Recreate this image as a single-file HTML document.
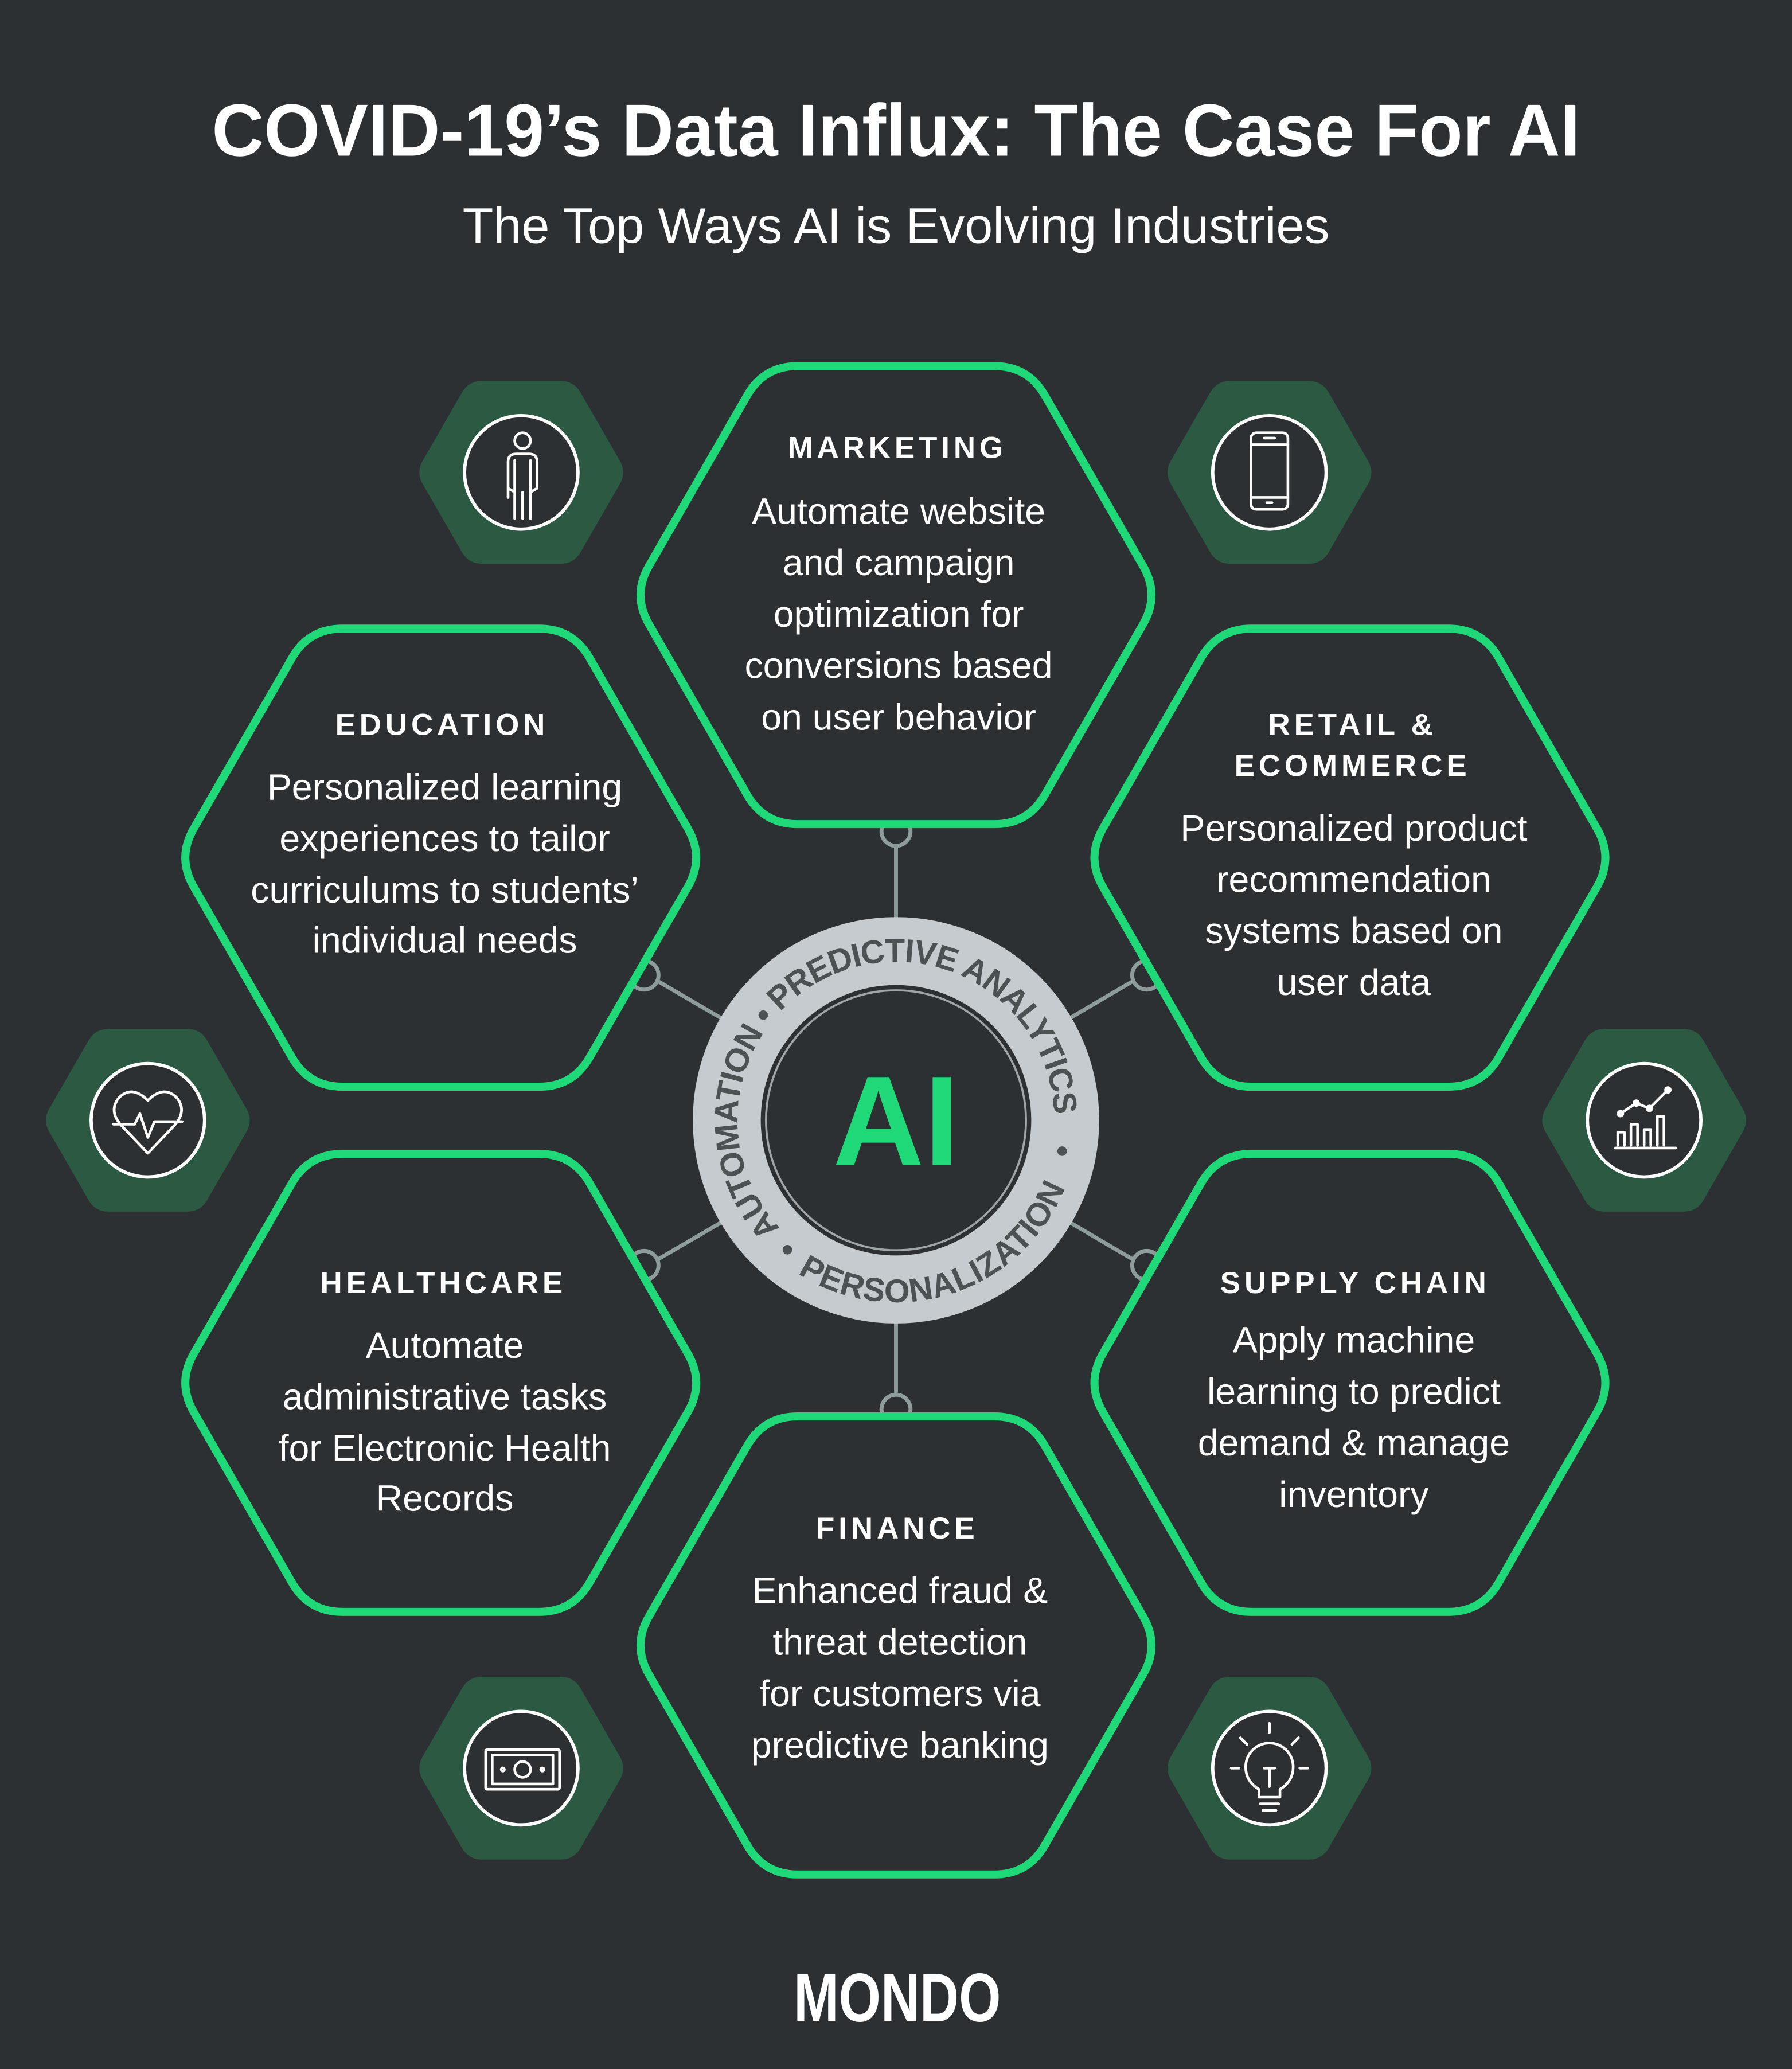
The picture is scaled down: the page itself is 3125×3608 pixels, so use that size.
<!DOCTYPE html>
<html><head><meta charset="utf-8"><style>html,body{margin:0;padding:0;background:#2c3032}svg{display:block}</style></head>
<body>
<svg width="3125" height="3608" viewBox="0 0 1358 1568" xmlns="http://www.w3.org/2000/svg" font-family="'Liberation Sans', sans-serif">
<defs>
<path id="hx" d="M184.5,-21.7 Q197,0 184.5,21.7 L111,149.3 Q98.5,171 73.5,171 L-73.5,171 Q-98.5,171 -111,149.3 L-184.5,21.7 Q-197,0 -184.5,-21.7 L-111,-149.3 Q-98.5,-171 -73.5,-171 L73.5,-171 Q98.5,-171 111,-149.3 Z"/>
<path id="cw" d="M591.3,930.8 A120,120 0 1 1 798.9,844.8"/>
<path id="ccw" d="M604.5,965.1 A138,138 0 0 0 807.3,899.8"/>
</defs>
<rect width="1358" height="1568" fill="#2c3032"/>
<text x="679" y="118" text-anchor="middle" font-size="56" font-weight="bold" fill="#fff" textLength="1037" lengthAdjust="spacingAndGlyphs">COVID-19’s Data Influx: The Case For AI</text>
<text x="679" y="184" text-anchor="middle" font-size="38" fill="#fff" textLength="657" lengthAdjust="spacingAndGlyphs">The Top Ways AI is Evolving Industries</text>

<g stroke="#8f9c9c" stroke-width="3" fill="#2c3032">
<line x1="679" y1="849" x2="679" y2="628"/><line x1="679" y1="849" x2="679" y2="1070"/>
<line x1="679" y1="849" x2="489" y2="738"/><line x1="679" y1="849" x2="868" y2="738"/>
<line x1="679" y1="849" x2="489" y2="960"/><line x1="679" y1="849" x2="868" y2="960"/>
<circle cx="679" cy="630" r="11"/><circle cx="679" cy="1068" r="11"/>
<circle cx="488" cy="739" r="11"/><circle cx="869" cy="739" r="11"/>
<circle cx="488" cy="959" r="11"/><circle cx="869" cy="959" r="11"/>
</g>

<g fill="#2c5942">
<use href="#hx" transform="translate(395,358) scale(0.405)"/>
<use href="#hx" transform="translate(962,358) scale(0.405)"/>
<use href="#hx" transform="translate(112,849) scale(0.405)"/>
<use href="#hx" transform="translate(1246,849) scale(0.405)"/>
<use href="#hx" transform="translate(395,1340) scale(0.405)"/>
<use href="#hx" transform="translate(962,1340) scale(0.405)"/>
</g>
<g fill="#2c3032" stroke="#fff" stroke-width="2.5">
<circle cx="395" cy="358" r="43"/><circle cx="962" cy="358" r="43"/>
<circle cx="112" cy="849" r="43"/><circle cx="1246" cy="849" r="43"/>
<circle cx="395" cy="1340" r="43"/><circle cx="962" cy="1340" r="43"/>
</g>
<g fill="none" stroke="#fff" stroke-width="2" stroke-linecap="round" stroke-linejoin="round">
<circle cx="396" cy="334" r="6"/>
<path d="M385,377 V350 Q385,344 391,344 H401 Q407,344 407,350 V370 L402,373"/>
<path d="M385,370 L390,373 M390,349 V393 M402,349 V393 M396,373 V393"/>
<rect x="948" y="328" width="28" height="58" rx="4"/>
<path d="M948,337 H976 M948,377 H976 M958,332 H966 M960,381 H964"/>
<path d="M112,874 L92,853 Q82,842 90,832 Q100,822 112,834 Q124,822 134,832 Q142,842 132,853 Z"/>
<path d="M86,852 H102 L106,844 L112,862 L117,850 H138"/>
<path d="M1224,870 H1270 M1226,868 V858 H1231 V868 M1236,868 V852 H1241 V868 M1246,868 V856 H1251 V868 M1256,868 V846 H1261 V868"/>
<path d="M1228,844 L1240,836 L1250,840 L1264,826"/>
<circle cx="1228" cy="844" r="1.8"/><circle cx="1240" cy="836" r="1.8"/><circle cx="1250" cy="840" r="1.8"/><circle cx="1264" cy="826" r="1.8"/>
<rect x="368" y="1326" width="56" height="30" rx="1"/>
<rect x="373" y="1330" width="46" height="22"/>
<circle cx="396" cy="1341" r="6"/><circle cx="381" cy="1341" r="1.2"/><circle cx="411" cy="1341" r="1.2"/>
<path d="M954,1362 V1356 Q944,1350 944,1339 A18,18 0 0 1 980,1339 Q980,1350 970,1356 V1362 Z"/>
<path d="M955,1367 H969 M957,1372 H967 M958,1340 H966 M962,1340 V1354 M962,1306 V1313 M940,1317 L945,1322 M984,1317 L979,1322 M933,1340 H939 M985,1340 H991"/>
</g>

<g fill="#2c3032" stroke="#1fd877" stroke-width="6">
<use href="#hx" transform="translate(679,451) scale(1.015)"/>
<use href="#hx" transform="translate(334,650) scale(1.015)"/>
<use href="#hx" transform="translate(1023,650) scale(1.015)"/>
<use href="#hx" transform="translate(334,1048) scale(1.015)"/>
<use href="#hx" transform="translate(1023,1048) scale(1.015)"/>
<use href="#hx" transform="translate(679,1247) scale(1.015)"/>
</g>

<circle cx="679" cy="849" r="154" fill="#c6cbcf"/>
<circle cx="679" cy="849" r="102.5" fill="#2c3032"/>
<circle cx="679" cy="849" r="98.5" fill="none" stroke="#9fa5a8" stroke-width="1.6"/>
<g fill="#4c5153">
<circle cx="596.7" cy="947.1" r="3.6"/><circle cx="804.9" cy="872.4" r="3.6"/>
<text font-size="25" font-weight="bold"><textPath href="#cw" textLength="463" lengthAdjust="spacing">AUTOMATION • PREDICTIVE ANALYTICS</textPath></text>
<text font-size="25" font-weight="bold"><textPath href="#ccw" textLength="243" lengthAdjust="spacing">PERSONALIZATION</textPath></text>
</g>
<text x="679" y="883" text-anchor="middle" font-size="97" font-weight="bold" fill="#1fd877" textLength="96" lengthAdjust="spacingAndGlyphs">AI</text>

<g fill="#fff" text-anchor="middle">
<g font-size="23" font-weight="bold" letter-spacing="3">
<text x="680" y="347">MARKETING</text>
<text x="335" y="557">EDUCATION</text>
<text x="1025" y="557">RETAIL &amp;</text>
<text x="1025" y="588">ECOMMERCE</text>
<text x="336" y="980">HEALTHCARE</text>
<text x="1027" y="980">SUPPLY CHAIN</text>
<text x="680" y="1166">FINANCE</text>
</g>
<g font-size="28">
<text x="681" y="397">Automate website</text>
<text x="681" y="436">and campaign</text>
<text x="681" y="475">optimization for</text>
<text x="681" y="514">conversions based</text>
<text x="681" y="553">on user behavior</text>

<text x="337" y="606">Personalized learning</text>
<text x="337" y="645">experiences to tailor</text>
<text x="337" y="684">curriculums to students’</text>
<text x="337" y="722">individual needs</text>

<text x="1026" y="637">Personalized product</text>
<text x="1026" y="676">recommendation</text>
<text x="1026" y="715">systems based on</text>
<text x="1026" y="754">user data</text>

<text x="337" y="1029">Automate</text>
<text x="337" y="1068">administrative tasks</text>
<text x="337" y="1107">for Electronic Health</text>
<text x="337" y="1145">Records</text>

<text x="1026" y="1025">Apply machine</text>
<text x="1026" y="1064">learning to predict</text>
<text x="1026" y="1103">demand &amp; manage</text>
<text x="1026" y="1142">inventory</text>

<text x="682" y="1215">Enhanced fraud &amp;</text>
<text x="682" y="1254">threat detection</text>
<text x="682" y="1293">for customers via</text>
<text x="682" y="1332">predictive banking</text>
</g>
<text x="680" y="1532" font-size="52" font-weight="bold" textLength="157" lengthAdjust="spacingAndGlyphs">MONDO</text>
</g>
</svg>
</body></html>
